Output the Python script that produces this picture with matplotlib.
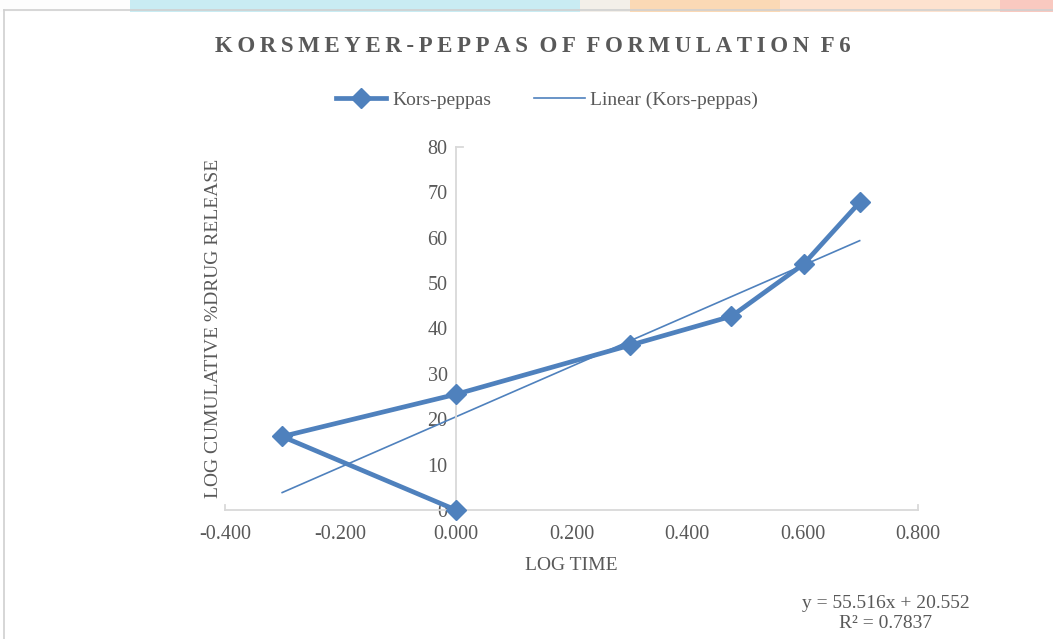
import matplotlib
matplotlib.use("Agg")
import matplotlib.pyplot as plt
from matplotlib.patches import Rectangle
from matplotlib.lines import Line2D

# ---- data ----
log_time = [0.000, -0.301, 0.000, 0.301, 0.477, 0.602, 0.699]
log_release = [0.0, 16.2, 25.5, 36.3, 42.7, 54.2, 67.8]
slope = 55.516
intercept = 20.552
r_squared = 0.7837
x_ticks = [-0.4, -0.2, 0.0, 0.2, 0.4, 0.6, 0.8]
y_ticks = [0, 10, 20, 30, 40, 50, 60, 70, 80]

title = "KORSMEYER-PEPPAS OF FORMULATION F6"
series_name = "Kors-peppas"
trend_name = "Linear (Kors-peppas)"
x_label = "LOG TIME"
y_label = "LOG CUMULATIVE %DRUG RELEASE"

BLUE = "#4f81bd"
GRAY_TXT = "#595959"
GRAY_AX = "#d9d9d9"
SERIF = ["Liberation Serif", "DejaVu Serif"]

fig = plt.figure(figsize=(10.53, 6.39), dpi=100)
fig.patch.set_facecolor("white")

# background banner strip at the top and frame
W, H = 1053, 639
def fr(x, y, w, h, c, a=1.0):
    fig.add_artist(Rectangle((x / W, 1 - (y + h) / H), w / W, h / H,
                             transform=fig.transFigure, facecolor=c,
                             edgecolor="none", alpha=a, zorder=0))
fr(0, 0, W, 12, "#fdfdfd")
fr(130, 0, 450, 12, "#c9ecf3")
fr(580, 0, 50, 12, "#f3efe9")
fr(630, 0, 150, 12, "#fbd9b5")
fr(780, 0, 220, 12, "#fde2cf")
fr(1000, 0, 53, 12, "#f9c9c0")
fig.add_artist(Line2D([4 / W, 4 / W], [0, 1 - 10 / H], transform=fig.transFigure,
                      color="#d0d0d0", lw=1.2))
fig.add_artist(Line2D([4 / W, 1], [1 - 10 / H, 1 - 10 / H], transform=fig.transFigure,
                      color="#d0d0d0", lw=1.2))

ax = fig.add_axes([225 / W, 1 - 510 / H, (918 - 225) / W, (510 - 147) / H])
ax.set_xlim(x_ticks[0], x_ticks[-1])
ax.set_ylim(y_ticks[0], y_ticks[-1])
ax.set_xticks(x_ticks)
ax.set_yticks(y_ticks)
ax.set_xticklabels([f"{v:.3f}" for v in x_ticks])
ax.set_yticklabels([str(v) for v in y_ticks])

for s in ["top", "right"]:
    ax.spines[s].set_visible(False)
ax.spines["left"].set_position(("data", 0))
ax.spines["left"].set_color(GRAY_AX)
ax.spines["bottom"].set_color(GRAY_AX)
ax.spines["left"].set_linewidth(1.3)
ax.spines["bottom"].set_linewidth(1.3)
ax.tick_params(length=0, labelsize=14.5, labelcolor=GRAY_TXT)
ax.tick_params(axis="x", pad=11)
ax.tick_params(axis="y", pad=6)
for lab in ax.get_xticklabels() + ax.get_yticklabels():
    lab.set_fontfamily(SERIF)

# small hooks at axis ends
ax.plot([x_ticks[0], x_ticks[0]], [0, 1.2], color=GRAY_AX, lw=1.3, clip_on=False)
ax.plot([x_ticks[-1], x_ticks[-1]], [0, 1.2], color=GRAY_AX, lw=1.3, clip_on=False)
ax.plot([0, 0.012], [80, 80], color=GRAY_AX, lw=1.3, clip_on=False)

# trendline
xs = [min(log_time), max(log_time)]
ys = [slope * v + intercept for v in xs]
ax.plot(xs, ys, color=BLUE, lw=1.2, zorder=2, label=trend_name)

# series
ax.plot(log_time, log_release, color=BLUE, lw=3.4, marker="D", markersize=10,
        zorder=3, label=series_name, clip_on=False)

ax.set_xlabel(x_label, fontsize=14, color=GRAY_TXT, family=SERIF, labelpad=9)
ax.set_ylabel(y_label, fontsize=14, color=GRAY_TXT, family=SERIF)
ax.yaxis.set_label_coords(-0.005, 0.5)

# title with letter spacing
fig.text(533 / W, 1 - 46 / H, "\u2009".join(title).replace("\u2009 \u2009", "  "),
         ha="center", va="center", fontsize=16.5, fontweight="bold",
         color=GRAY_TXT, family=SERIF)

handles, labels = ax.get_legend_handles_labels()
leg = fig.legend(handles[::-1], labels[::-1], loc="center",
                 bbox_to_anchor=(547 / W, 1 - 100 / H), ncol=2, frameon=False,
                 prop={"family": SERIF, "size": 14}, handlelength=2.6,
                 columnspacing=2.2, handletextpad=0.3)
for t in leg.get_texts():
    t.set_color(GRAY_TXT)

# trendline equation
fig.text(886 / W, 1 - 603 / H, f"y = {slope}x + {intercept}", ha="center",
         va="center", fontsize=14, color=GRAY_TXT, family=SERIF)
fig.text(886 / W, 1 - 623 / H, f"R² = {r_squared}", ha="center",
         va="center", fontsize=14, color=GRAY_TXT, family=SERIF)

fig.savefig("out.png", dpi=100, facecolor="white")
